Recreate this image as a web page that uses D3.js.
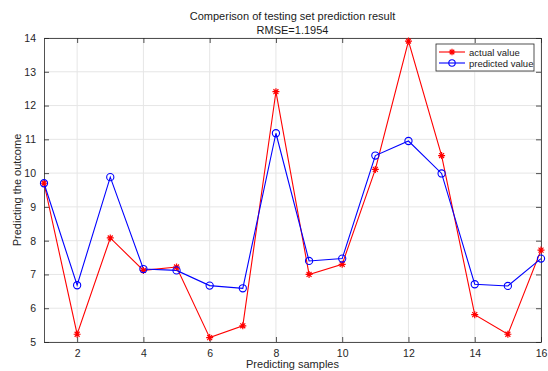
<!DOCTYPE html>
<html>
<head>
<meta charset="utf-8">
<script src="https://cdn.jsdelivr.net/npm/d3@7"></script>
<style>
  html, body { margin: 0; padding: 0; background: #fff; }
  svg { display: block; font-family: "Liberation Sans", Arial, Helvetica, sans-serif; }
</style>
</head>
<body>
<svg id="chart" width="548" height="371"></svg>
<script>
// Sample indices and the two series
const samples = d3.range(1, 17);
const actualValues = [9.70, 5.23, 8.08, 7.12, 7.22, 5.13, 5.48, 12.41, 7.00, 7.30, 10.11, 13.91, 10.52, 5.81, 5.23, 7.72];
const predictedValues = [9.70, 6.68, 9.88, 7.16, 7.12, 6.67, 6.59, 11.18, 7.40, 7.47, 10.52, 10.95, 9.99, 6.71, 6.66, 7.47];
const xTicks = [2, 4, 6, 8, 10, 12, 14, 16];
const yTicks = [5, 6, 7, 8, 9, 10, 11, 12, 13, 14];
const seriesNames = ["actual value", "predicted value"];
const titleLines = ["Comperison of testing set prediction result", "RMSE=1.1954"];
const xLabel = "Predicting samples";
const yLabel = "Predicting the outcome";

const svg = d3.select("#chart");
const margin = { left: 44, right: 7, top: 38, bottom: 29 };
const W = 548, H = 371;
const x = d3.scaleLinear().domain([1, 16]).range([margin.left, W - margin.right]);
const y = d3.scaleLinear().domain([5, 14]).range([H - margin.bottom, margin.top]);

const axisColor = "#262626";
const gridColor = "#e6e6e6";

// grid
const grid = svg.append("g");
grid.selectAll(".gx").data(xTicks).join("line")
  .attr("x1", d => x(d)).attr("x2", d => x(d))
  .attr("y1", y(5)).attr("y2", y(14))
  .attr("stroke", gridColor).attr("stroke-width", 1);
grid.selectAll(".gy").data(yTicks).join("line")
  .attr("x1", x(1)).attr("x2", x(16))
  .attr("y1", d => y(d)).attr("y2", d => y(d))
  .attr("stroke", gridColor).attr("stroke-width", 1);

// axes (ticks inward, box on all sides)
const tickLen = 5;
const axisBottomG = svg.append("g").attr("transform", `translate(0,${y(5)})`)
  .call(d3.axisBottom(x).tickValues(xTicks).tickSizeInner(-tickLen).tickSizeOuter(0).tickPadding(8));
const axisTopG = svg.append("g").attr("transform", `translate(0,${y(14)})`)
  .call(d3.axisTop(x).tickValues(xTicks).tickSizeInner(-tickLen).tickSizeOuter(0).tickFormat(""));
const axisLeftG = svg.append("g").attr("transform", `translate(${x(1)},0)`)
  .call(d3.axisLeft(y).tickValues(yTicks).tickSizeInner(-tickLen).tickSizeOuter(0).tickPadding(8));
const axisRightG = svg.append("g").attr("transform", `translate(${x(16)},0)`)
  .call(d3.axisRight(y).tickValues(yTicks).tickSizeInner(-tickLen).tickSizeOuter(0).tickFormat(""));

[axisBottomG, axisTopG, axisLeftG, axisRightG].forEach(g => {
  g.select(".domain").attr("stroke", axisColor).attr("stroke-width", 0.8);
  g.selectAll(".tick line").attr("stroke", axisColor).attr("stroke-width", 0.8);
  g.selectAll(".tick text").attr("fill", axisColor).attr("font-size", 10.5)
    .attr("font-family", "Liberation Sans, Arial, sans-serif");
});

// series lines
const line = d3.line().x((d, i) => x(samples[i])).y(d => y(d));
svg.append("path").datum(actualValues).attr("d", line)
  .attr("fill", "none").attr("stroke", "#ff0000").attr("stroke-width", 1.1);
svg.append("path").datum(predictedValues).attr("d", line)
  .attr("fill", "none").attr("stroke", "#0000ff").attr("stroke-width", 1.1);

// star marker
function starPath(cx, cy, r) {
  let p = "";
  for (let k = 0; k < 4; k++) {
    const a = k * Math.PI / 4;
    const dx = r * Math.cos(a), dy = r * Math.sin(a);
    p += `M${cx - dx},${cy - dy}L${cx + dx},${cy + dy}`;
  }
  return p;
}

svg.append("g").selectAll("path").data(actualValues).join("path")
  .attr("d", (d, i) => starPath(x(samples[i]), y(d), 3.5))
  .attr("stroke", "#ff0000").attr("stroke-width", 1.2).attr("fill", "none");

svg.append("g").selectAll("circle").data(predictedValues).join("circle")
  .attr("cx", (d, i) => x(samples[i])).attr("cy", d => y(d)).attr("r", 3.6)
  .attr("stroke", "#0000ff").attr("stroke-width", 1.1).attr("fill", "none");

// title
const cx = (x(1) + x(16)) / 2;
svg.append("text").attr("x", cx).attr("y", 20).attr("text-anchor", "middle")
  .attr("font-size", 11).attr("fill", "#1a1a1a").text(titleLines[0]);
svg.append("text").attr("x", cx).attr("y", 34).attr("text-anchor", "middle")
  .attr("font-size", 11).attr("fill", "#1a1a1a").text(titleLines[1]);

// axis labels
svg.append("text").attr("x", cx).attr("y", 368).attr("text-anchor", "middle")
  .attr("font-size", 11).attr("fill", axisColor).text(xLabel);
svg.append("text").attr("transform", `translate(21,${(y(5) + y(14)) / 2}) rotate(-90)`)
  .attr("text-anchor", "middle").attr("font-size", 11).attr("fill", axisColor).text(yLabel);

// legend
const lg = svg.append("g");
lg.append("rect").attr("x", 436).attr("y", 44).attr("width", 98).attr("height", 27)
  .attr("fill", "#fff").attr("stroke", axisColor).attr("stroke-width", 0.8);
const legendItems = [
  { name: seriesNames[0], color: "#ff0000", marker: "star" },
  { name: seriesNames[1], color: "#0000ff", marker: "circle" }
];
legendItems.forEach((it, i) => {
  const ly = 52 + i * 11;
  lg.append("line").attr("x1", 439).attr("x2", 465).attr("y1", ly).attr("y2", ly)
    .attr("stroke", it.color).attr("stroke-width", 1.1);
  if (it.marker === "star") {
    lg.append("path").attr("d", starPath(452, ly, 3.2)).attr("stroke", it.color)
      .attr("stroke-width", 1.2).attr("fill", "none");
  } else {
    lg.append("circle").attr("cx", 452).attr("cy", ly).attr("r", 3.2)
      .attr("stroke", it.color).attr("stroke-width", 1.1).attr("fill", "none");
  }
  lg.append("text").attr("x", 469).attr("y", ly + 3.5).attr("font-size", 9.5)
    .attr("fill", "#1a1a1a").text(it.name);
});
</script>
</body>
</html>
